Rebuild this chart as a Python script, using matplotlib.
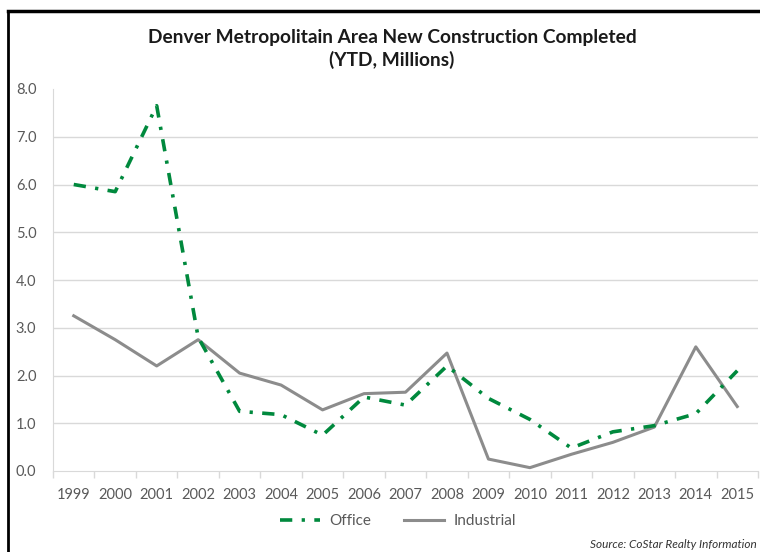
import matplotlib
matplotlib.use("Agg")
import matplotlib.pyplot as plt
from matplotlib.lines import Line2D

years = ["1999", "2000", "2001", "2002", "2003", "2004", "2005", "2006", "2007",
         "2008", "2009", "2010", "2011", "2012", "2013", "2014", "2015"]
office = [6.0, 5.85, 7.65, 2.8, 1.25, 1.18, 0.75, 1.55, 1.38,
          2.2, 1.52, 1.08, 0.48, 0.82, 0.95, 1.2, 2.1]
industrial = [3.25, 2.75, 2.2, 2.75, 2.05, 1.8, 1.28, 1.62, 1.65,
              2.47, 0.25, 0.07, 0.35, 0.6, 0.92, 2.6, 1.35]
y_ticks = [0, 1, 2, 3, 4, 5, 6, 7, 8]

green = "#00893D"
gray = "#8C8C8C"
text_gray = "#595959"
font = "Lato"

fig = plt.figure(figsize=(7.6, 5.52), dpi=100)
ax = fig.add_axes([53 / 760, 81 / 552, 705 / 760, 382 / 552])

x = list(range(len(years)))
office_style = (0, (3.4, 2.6, 0.9, 2.6))
ax.plot(x, office, color=green, linewidth=2.6, linestyle=office_style,
        dash_capstyle="butt", label="Office", zorder=3)
ax.plot(x, industrial, color=gray, linewidth=2.2, label="Industrial", zorder=2)

ax.set_xlim(-0.5, len(years) - 0.5)
ax.set_ylim(0, 8)
ax.set_yticks(y_ticks)
ax.set_yticklabels([f"{v:.1f}" for v in y_ticks])
ax.set_xticks(x)
ax.set_xticklabels(years)
ax.set_xticks([i - 0.5 for i in range(len(years) + 1)], minor=True)
ax.tick_params(axis="x", which="major", length=0, pad=12, labelsize=10.5,
               labelcolor=text_gray)
ax.tick_params(axis="x", which="minor", length=5, color="#D9D9D9", width=1)
ax.tick_params(axis="y", length=0, pad=12, labelsize=10.5, labelcolor=text_gray)
for lab in ax.get_xticklabels() + ax.get_yticklabels():
    lab.set_fontfamily(font)

# horizontal gridlines, none at the top
for v in y_ticks[1:-1]:
    ax.axhline(v, color="#D9D9D9", linewidth=1, zorder=1)

for side in ["top", "right"]:
    ax.spines[side].set_visible(False)
ax.spines["left"].set_color("#D9D9D9")
ax.spines["bottom"].set_color("#D9D9D9")

fig.text(392 / 760, 1 - 37 / 552, "Denver Metropolitain Area New Construction Completed",
         ha="center", va="center", fontsize=13.8, fontweight="bold", family=font,
         color="#1a1a1a")
fig.text(392 / 760, 1 - 60 / 552, "(YTD, Millions)", ha="center", va="center",
         fontsize=13.8, fontweight="bold", family=font, color="#1a1a1a")

handles = [
    Line2D([], [], color=green, linewidth=2.6, linestyle=office_style,
           dash_capstyle="butt"),
    Line2D([], [], color=gray, linewidth=2.2),
]
fig.legend(handles, ["Office", "Industrial"], loc="center",
           bbox_to_anchor=(398 / 760, 1 - 521 / 552), ncol=2, frameon=False,
           prop={"family": font, "size": 11}, labelcolor=text_gray,
           handlelength=2.6, handletextpad=0.6, columnspacing=2.2)

fig.text(757 / 760, 1 - 544 / 552, "Source: CoStar Realty Information",
         ha="right", va="center", fontsize=8.5, style="italic", family=font,
         color="#333333")

# frame on the left and top
fig.add_artist(Line2D([8 / 760, 8 / 760], [0, 1 - 11 / 552], color="black",
                      linewidth=2, transform=fig.transFigure))
fig.add_artist(Line2D([8 / 760, 1], [1 - 11 / 552, 1 - 11 / 552], color="black",
                      linewidth=2.5, transform=fig.transFigure))

fig.savefig("out.png", dpi=100)
